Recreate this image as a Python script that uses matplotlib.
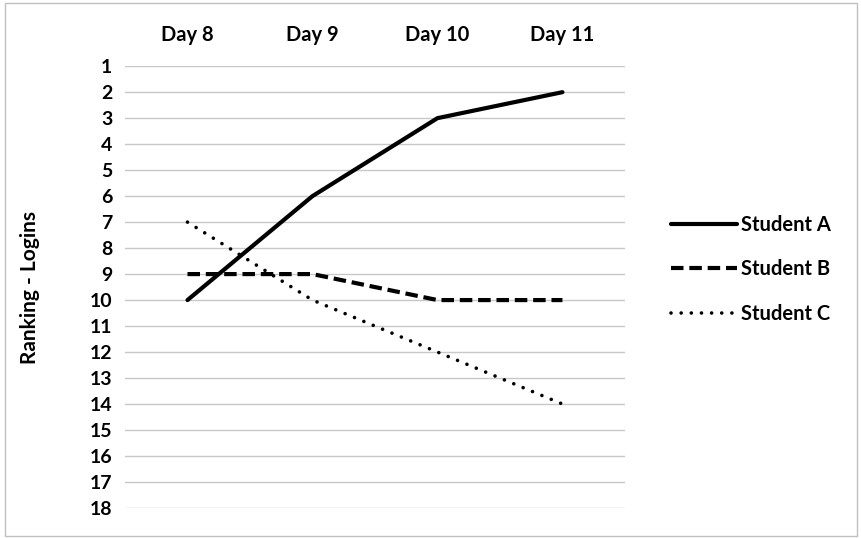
import matplotlib.pyplot as plt
from matplotlib.patches import Rectangle

days = ['Day 8', 'Day 9', 'Day 10', 'Day 11']
student_a = [10, 6, 3, 2]
student_b = [9, 9, 10, 10]
student_c = [7, 10, 12, 14]
ranks = list(range(1, 19))

plt.rcParams['font.family'] = ['Lato', 'DejaVu Sans']
plt.rcParams['font.weight'] = 'bold'

fig = plt.figure(figsize=(8.62, 5.38), dpi=100)
ax = fig.add_axes([0.145, 0.0558, 0.58, 0.8212])

x = range(len(days))
ax.plot(x, student_a, color='black', lw=3.0, solid_capstyle='round',
        solid_joinstyle='round', label='Student A')
ax.plot(x, student_b, color='black', lw=3.0, linestyle=(0, (3.0, 1.4)),
        label='Student B')
ax.plot(x, student_c, color='black', lw=2.6, linestyle=(0, (0.01, 2.8)),
        dash_capstyle='round', label='Student C')

ax.set_xlim(-0.5, 3.5)
ax.set_ylim(18, 1)
ax.set_yticks(ranks)
ax.set_xticks(list(x))
ax.set_xticklabels(days)
ax.xaxis.tick_top()
ax.tick_params(axis='x', length=0, pad=15, labelsize=14.5)
ax.tick_params(axis='y', length=0, pad=9, labelsize=14)
for lab in ax.get_xticklabels() + ax.get_yticklabels():
    lab.set_fontweight('bold')
ax.grid(axis='y', color='#c8c8c8', lw=1)
ax.set_axisbelow(True)
for s in ax.spines.values():
    s.set_visible(False)
ax.set_ylabel('Ranking - Logins', fontsize=15, fontweight='bold', labelpad=36)

ax.legend(loc='center left', bbox_to_anchor=(1.055, 0.54), frameon=False,
          handlelength=3.3, handletextpad=0.2, labelspacing=1.2,
          prop={'size': 14.5, 'weight': 'bold'})

fig.patches.append(Rectangle((0.006, 0.004), 0.988, 0.99, transform=fig.transFigure,
                             fill=False, edgecolor='#bfbfbf', lw=1))

fig.savefig('out.png', dpi=100)
